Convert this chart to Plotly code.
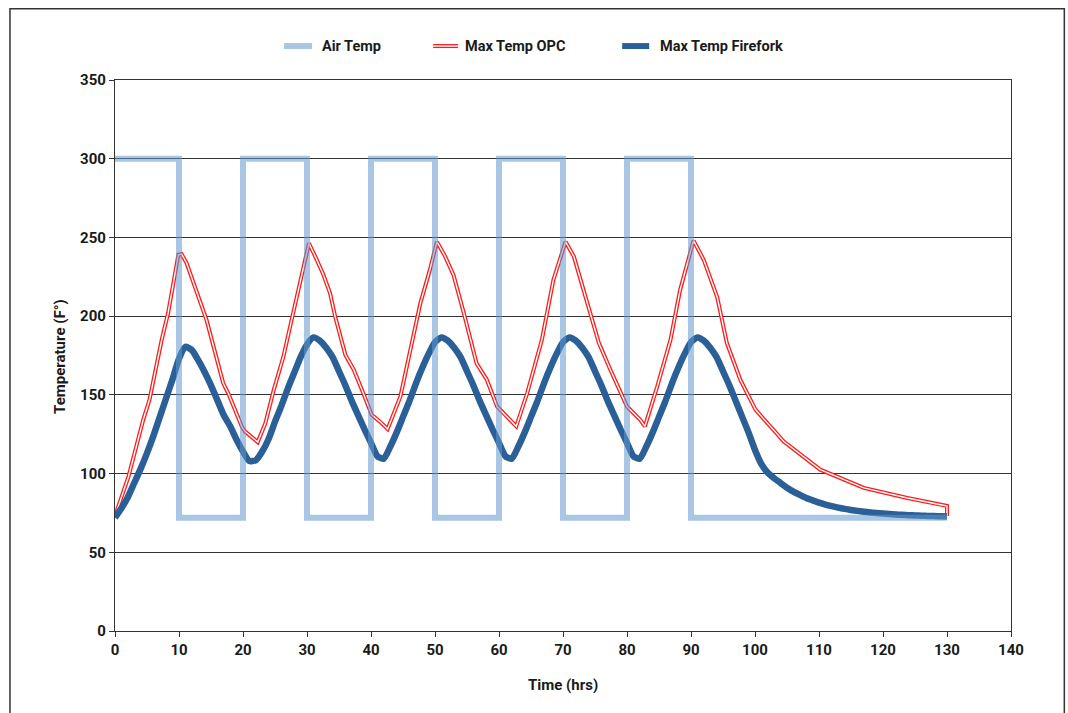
import plotly.graph_objects as go

# ---- data -------------------------------------------------------------
air_time = [0, 10, 10, 20, 20, 30, 30, 40, 40, 50, 50, 60, 60, 70, 70, 80, 80, 90, 90, 130]
air_temp = [300, 300, 72, 72, 300, 300, 72, 72, 300, 300, 72, 72, 300, 300, 72, 72, 300, 300, 72, 72]

opc_time = [0, 2.1, 4.4, 5.4, 7.3, 8.3, 9.9, 10.4, 11.2, 13.3, 14.3, 16.9, 17.7, 19.8, 20.3,
            22.3, 23.5, 24.8, 26.3, 27.6, 29.2, 30.3, 31.3, 32.5, 33.6, 34.4, 36.0, 37.3,
            38.8, 40.1, 41.4, 42.6, 44.6, 46.1, 47.7, 49.2, 50.3, 51.6, 52.9, 54.5, 56.5,
            58.1, 59.7, 61.2, 62.7, 64.4, 66.7, 68.5, 70.4, 71.7, 73.7, 75.6, 77.4, 80.0,
            82.1, 82.8, 84.7, 86.8, 88.3, 90.4, 92.0, 94.1, 95.6, 97.7, 100.1, 104.5, 110.2,
            117.0, 123.8, 127.4, 129.8, 130, 130]
opc_temp = [73, 98, 134, 147, 185, 202, 239, 239.5, 233.6, 210, 197.6, 157.5, 151, 130, 126.8,
            120, 132, 153, 174, 197.6, 227, 246.3, 237.8, 227, 214.6, 199.7, 175.4, 166,
            151, 137.4, 133, 128.3, 149, 176.5, 208, 229.4, 247.3, 237.8, 226, 202, 170,
            159.6, 142.6, 136.3, 130, 151, 185, 223, 247.3, 237.8, 210, 183, 166, 142.6,
            134, 130, 155, 185, 216.7, 248, 235.7, 212, 183, 159.6, 140.5, 120.4, 102.5,
            90.9, 84.5, 81.3, 79.6, 79.5, 73]

firefork_time = list(range(0, 131))
firefork_temp = [
    72, 78, 85, 94, 103, 113, 124, 136, 148, 160,           # 0-9
    173, 180.5, 178.5, 172, 164.5, 156, 146.5, 137, 130, 121.5,  # 10-19
    114, 108, 108.5, 114, 122, 133, 143, 154, 164, 174,      # 20-29
    182, 186.5, 184.5, 180, 174, 165, 156, 146, 137, 128,    # 30-39
    119.5, 111, 109.5, 117, 126, 136, 146, 157, 167, 176,    # 40-49
    183.5, 186.5, 184.5, 180, 174, 165, 156, 146, 137, 128,  # 50-59
    119.5, 111, 109.5, 117, 126, 136, 146, 157, 167, 176,    # 60-69
    183.5, 186.5, 184.5, 180, 174, 165, 156, 146, 137, 128,  # 70-79
    119.5, 111, 109.5, 117, 126, 136, 146, 157, 167, 176,    # 80-89
    183.5, 186.5, 184.5, 180, 174, 165, 156, 146, 136, 126,  # 90-99
    115, 106, 100.5, 97, 94, 91, 88.5, 86.5, 84.5, 83,       # 100-109
    81.5, 80.3, 79.3, 78.4, 77.6, 76.9, 76.3, 75.8, 75.3, 74.9,  # 110-119
    74.6, 74.3, 74.0, 73.8, 73.6, 73.4, 73.2, 73.1, 73.0, 72.9,  # 120-129
    72.8,                                                     # 130
]

x_ticks = list(range(0, 141, 10))
y_ticks = list(range(0, 351, 50))

series_names = ["Air Temp", "Max Temp OPC", "Max Temp Firefork"]
x_title = "Time (hrs)"
y_title = "Temperature (F°)"

# ---- styling ----------------------------------------------------------
FONT = "Roboto, Liberation Sans, Arial, sans-serif"
FS = 15
FS_LEG = 14.5
AIR_COLOR = "rgba(99,151,206,0.55)"
AIR_SWATCH = "#A9C6E3"
OPC_COLOR = "#FF1A1A"
FF_COLOR = "#2A6097"
INK = "#1a1a1a"

W, H = 1068, 713
L, R, T, B = 115, 1010.7, 79.5, 631.5


def px_x(px):
    return (px - L) / (R - L)


def px_y(py):
    return (B - py) / (B - T)


fig = go.Figure()

# red double line: red stroke with a thin white core
fig.add_trace(go.Scatter(x=opc_time, y=opc_temp, mode="lines", name=series_names[1],
                         line=dict(color=OPC_COLOR, width=4), showlegend=False))
fig.add_trace(go.Scatter(x=opc_time, y=opc_temp, mode="lines", name=series_names[1],
                         line=dict(color="white", width=1.4), showlegend=False,
                         hoverinfo="skip"))
fig.add_trace(go.Scatter(x=firefork_time, y=firefork_temp, mode="lines", name=series_names[2],
                         line=dict(color=FF_COLOR, width=6.5, shape="spline", smoothing=0.6),
                         showlegend=False))
fig.add_trace(go.Scatter(x=air_time, y=air_temp, mode="lines", name=series_names[0],
                         line=dict(color=AIR_COLOR, width=6), showlegend=False))

# ---- legend drawn as shapes + text ------------------------------------
shapes = []
annotations = []
leg_y = px_y(45.5)
legend_items = [
    (series_names[0], 284, 312, 320, "air"),
    (series_names[1], 433, 458, 463, "opc"),
    (series_names[2], 622, 649, 658, "ff"),
]
for name, x0, x1, tx, kind in legend_items:
    if kind == "air":
        shapes.append(dict(type="line", xref="paper", yref="paper",
                           x0=px_x(x0), x1=px_x(x1), y0=leg_y, y1=leg_y,
                           line=dict(color=AIR_SWATCH, width=6)))
    elif kind == "opc":
        shapes.append(dict(type="line", xref="paper", yref="paper",
                           x0=px_x(x0), x1=px_x(x1), y0=leg_y, y1=leg_y,
                           line=dict(color=OPC_COLOR, width=4)))
        shapes.append(dict(type="line", xref="paper", yref="paper",
                           x0=px_x(x0), x1=px_x(x1), y0=leg_y, y1=leg_y,
                           line=dict(color="white", width=1.4)))
    else:
        shapes.append(dict(type="line", xref="paper", yref="paper",
                           x0=px_x(x0), x1=px_x(x1), y0=leg_y, y1=leg_y,
                           line=dict(color=FF_COLOR, width=6)))
    annotations.append(dict(text=f"<b>{name}</b>", xref="paper", yref="paper",
                            x=px_x(tx), y=leg_y, xanchor="left", yanchor="middle",
                            showarrow=False, font=dict(family=FONT, size=FS_LEG, color=INK)))

# axis titles
annotations.append(dict(text=f"<b>{x_title}</b>", xref="paper", yref="paper",
                        x=px_x(563), y=px_y(686), xanchor="center", yanchor="middle",
                        showarrow=False, font=dict(family=FONT, size=FS, color=INK)))
annotations.append(dict(text=f"<b>{y_title}</b>", xref="paper", yref="paper",
                        x=px_x(60), y=px_y(356), xanchor="center", yanchor="middle",
                        textangle=-90, showarrow=False,
                        font=dict(family=FONT, size=FS, color=INK)))

# outer frame around the whole chart
shapes.append(dict(type="rect", xref="paper", yref="paper",
                   x0=px_x(10), x1=px_x(1064), y0=px_y(8), y1=px_y(740),
                   line=dict(color="#333333", width=1.5), fillcolor="rgba(0,0,0,0)",
                   layer="below"))

fig.update_layout(
    width=W, height=H,
    margin=dict(l=L, r=W - R, t=T, b=H - B, autoexpand=False),
    paper_bgcolor="white", plot_bgcolor="white",
    font=dict(family=FONT, size=FS, color=INK),
    shapes=shapes, annotations=annotations,
    showlegend=False,
)
fig.update_xaxes(
    range=[0, 140], tickvals=x_ticks, ticktext=[f"<b>{v}</b>" for v in x_ticks],
    showgrid=False, zeroline=False, showline=True, linecolor="#333333", linewidth=1.2,
    mirror=True, ticks="outside", ticklen=5, tickcolor="#333333",
    tickfont=dict(family=FONT, size=FS, color=INK),
)
fig.update_yaxes(
    range=[0, 350], tickvals=y_ticks, ticktext=[f"<b>{v}</b>" for v in y_ticks],
    showgrid=True, gridcolor="#333333", gridwidth=1, zeroline=False,
    showline=True, linecolor="#333333", linewidth=1.2, mirror=True,
    ticks="outside", ticklen=5, tickcolor="#333333",
    tickfont=dict(family=FONT, size=FS, color=INK),
)

fig.write_html("out.html")
